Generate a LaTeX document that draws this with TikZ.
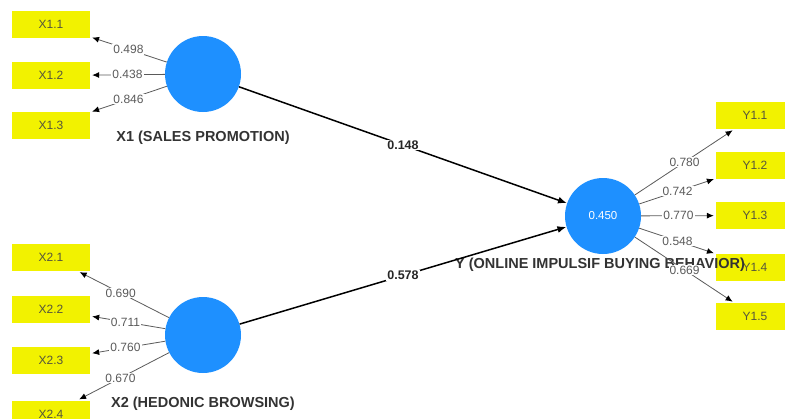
\documentclass[tikz,border=0pt]{standalone}
\usepackage{fontspec}
\setmainfont{Liberation Sans}
\usepackage{tikz}
\usetikzlibrary{arrows.meta, positioning}
\definecolor{boxyellow}{RGB}{242,242,0}
\definecolor{lvblue}{RGB}{30,144,255}
\definecolor{boxtext}{RGB}{85,85,60}
\definecolor{loadgray}{RGB}{90,90,90}

\begin{document}
\begin{tikzpicture}[x=1pt, y=-1pt,
  ind/.style={rectangle, fill=boxyellow, minimum width=78pt, minimum height=27pt, inner sep=0pt,
    text=boxtext, font=\fontsize{12}{13}\selectfont},
  lv/.style={circle, fill=lvblue, minimum size=76pt, inner sep=0pt, text=white,
    font=\fontsize{11.5}{12}\selectfont},
  lvname/.style={font=\fontsize{14.5}{16}\selectfont\bfseries, text=black!80, inner sep=1pt},
  load/.style={draw=loadgray, line width=0.8pt, -{Latex[length=7pt,width=6pt,color=black]}, shorten >=2pt},
  path/.style={draw=black, line width=1.5pt, -{Latex[length=9pt,width=7pt]}},
  lbl/.style={fill=white, inner sep=1pt, text=loadgray, font=\fontsize{12}{13}\selectfont},
  coef/.style={fill=white, inner sep=1pt, text=black!85, font=\fontsize{12.5}{13}\selectfont\bfseries}]
\useasboundingbox (0,0) rectangle (785,418);

% latent variables
\node[lv] (x1) at (203,74) {};
\node[lv] (x2) at (203,335) {};
\node[lv] (y) at (603,216) {0.450};

% indicators
\foreach \n/\yy in {1/24, 2/75.5, 3/125.5}
  \node[ind] (x1\n) at (51,\yy) {X1.\n};
\foreach \n/\yy in {1/257.5, 2/309.5, 3/360, 4/414}
  \node[ind] (x2\n) at (51,\yy) {X2.\n};
\foreach \n/\yy in {1/115.5, 2/165.5, 3/215.5, 4/267, 5/316.5}
  \node[ind] (y1\n) at (755,\yy) {Y1.\n};

% names
\node[lvname, below=18pt of x1] (x1name) {X1 (SALES PROMOTION)};
\node[lvname, below=23pt of x2] (x2name) {X2 (HEDONIC BROWSING)};
\node[lvname, below=3pt of y, xshift=-3pt] (yname) {Y (ONLINE IMPULSIF BUYING BEHAVIOR)};

% outer loadings
\foreach \n/\v in {1/0.498, 2/0.438, 3/0.846}
  \draw[load] (x1) -- node[lbl, pos=0.5]{\v} (x1\n);
\foreach \n/\v in {1/0.690, 2/0.711, 3/0.760, 4/0.670}
  \draw[load] (x2) -- node[lbl, pos=0.53]{\v} (x2\n);
\foreach \n/\v in {1/0.780, 2/0.742, 3/0.770, 4/0.548, 5/0.669}
  \draw[load] (y) -- node[lbl, pos=0.5]{\v} (y1\n);

% path coefficients
\draw[path] (x1) -- node[coef, pos=0.5]{0.148} (y);
\draw[path] (x2) -- node[coef, pos=0.5]{0.578} (y);
\end{tikzpicture}
\end{document}
